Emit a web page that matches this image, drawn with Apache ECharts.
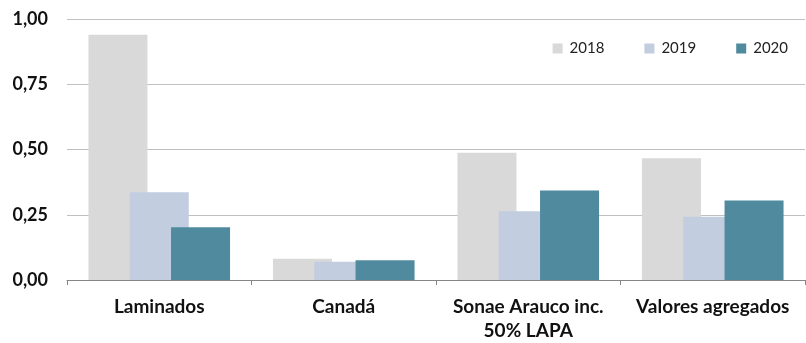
<!DOCTYPE html>
<html>
<head>
<meta charset="utf-8">
<script src="https://cdn.jsdelivr.net/npm/echarts@6/dist/echarts.min.js"></script>
<style>
  html, body { margin: 0; padding: 0; background: #fff; }
  #chart { width: 806px; height: 343px; }
</style>
</head>
<body>
<div id="chart"></div>
<script>
// categorias e valores
var categorias = ['Laminados', 'Canadá', 'Sonae Arauco inc.\n50% LAPA', 'Valores agregados'];
var anos = ['2018', '2019', '2020'];
var valores2018 = [0.94, 0.081, 0.488, 0.466];
var valores2019 = [0.336, 0.070, 0.263, 0.242];
var valores2020 = [0.202, 0.076, 0.343, 0.305];
var cores = ['#d9d9d9', '#c2cde0', '#4f8a9e'];

var fonte = 'Lato, "Open Sans", sans-serif';

var myChart = echarts.init(document.getElementById('chart'));

function serie(nome, dados, cor) {
	return {
		name: nome,
		type: 'bar',
		data: dados,
		barWidth: 59,
		barGap: '-30%',
		itemStyle: { color: cor },
		emphasis: { disabled: true }
	};
}

var option = {
	animation: false,
	color: cores,
	grid: { left: 67, right: 1, top: 19, bottom: 62 },
	legend: {
		data: anos,
		right: 13,
		top: 36,
		itemWidth: 10,
		itemHeight: 10,
		itemGap: 40,
		icon: 'rect',
		textStyle: { fontFamily: fonte, fontSize: 15, color: '#222', padding: [0, 0, 0, 2] }
	},
	xAxis: {
		type: 'category',
		data: categorias,
		axisLine: { lineStyle: { color: '#868686', width: 1 } },
		axisTick: { show: true, length: 5, lineStyle: { color: '#868686' } },
		axisLabel: {
			fontFamily: fonte, fontSize: 19, fontWeight: 'bold', color: '#111',
			margin: 15, lineHeight: 24, interval: 0
		}
	},
	yAxis: {
		type: 'value',
		min: 0,
		max: 1,
		interval: 0.25,
		axisLine: { show: false },
		axisTick: { show: false },
		splitLine: { lineStyle: { color: '#c0c0c0', width: 1 } },
		axisLabel: {
			fontFamily: fonte, fontSize: 18, fontWeight: 'bold', color: '#111', margin: 19,
			formatter: function(v) { return v.toFixed(2).replace('.', ','); }
		}
	},
	series: [
		serie(anos[0], valores2018, cores[0]),
		serie(anos[1], valores2019, cores[1]),
		serie(anos[2], valores2020, cores[2])
	]
};
myChart.setOption(option);
</script>
</body>
</html>
